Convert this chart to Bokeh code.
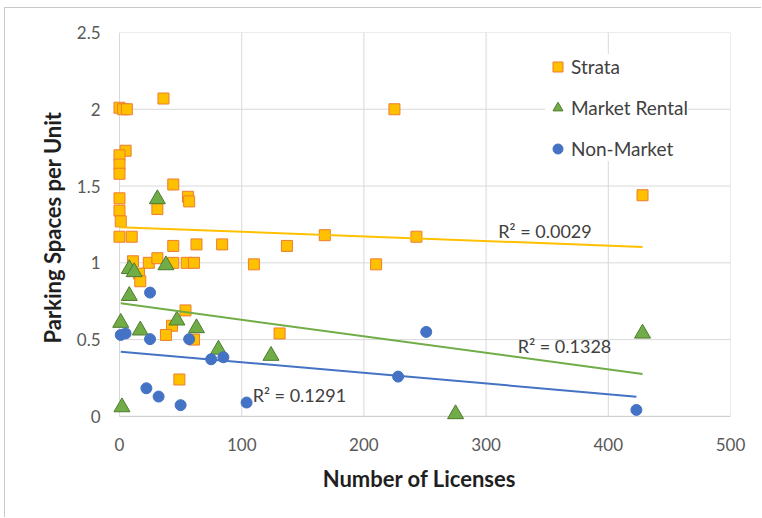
from bokeh.plotting import figure
from bokeh.models import Range1d, FixedTicker, Legend, LegendItem, Label
from bokeh.embed import file_html
from bokeh.resources import INLINE

# ---- data ----
strata_x = [0, 3, 6, 36, 5, 0, 0, 0, 44, 0, 56, 57, 0, 31, 1, 0, 10, 44, 63, 84, 137,
            11, 24, 31, 44, 55, 61, 110, 16, 17, 54, 43, 38, 61, 49, 131, 210, 225, 428, 168, 243]
strata_y = [2.01, 2.0, 2.0, 2.07, 1.73, 1.70, 1.64, 1.58, 1.51, 1.42, 1.43, 1.40, 1.34, 1.35, 1.27,
            1.17, 1.17, 1.11, 1.12, 1.12, 1.11, 1.01, 1.0, 1.03, 1.0, 1.0, 1.0, 0.99, 0.93, 0.88,
            0.69, 0.59, 0.53, 0.50, 0.24, 0.54, 0.99, 2.0, 1.44, 1.18, 1.17]

market_x = [31, 8, 12, 38, 8, 1, 17, 47, 63, 81, 124, 2, 275, 428]
market_y = [1.415, 0.96, 0.94, 0.985, 0.785, 0.61, 0.56, 0.625, 0.575, 0.435, 0.395, 0.06, 0.015, 0.54]

nonmarket_x = [25, 1, 5, 25, 57, 75, 85, 22, 32, 50, 104, 251, 228, 423]
nonmarket_y = [0.806, 0.53, 0.54, 0.503, 0.503, 0.372, 0.385, 0.183, 0.129, 0.073, 0.09, 0.55, 0.259, 0.042]

# linear trend lines (intercept, slope) and R² labels
strata_trend = (1.232, -0.000300)
market_trend = (0.737, -0.001077)
nonmarket_trend = (0.422, -0.000694)
r2_labels = ["R² = 0.0029", "R² = 0.1328", "R² = 0.1291"]

x_ticks = [0, 100, 200, 300, 400, 500]
y_ticks = [0, 0.5, 1, 1.5, 2, 2.5]
y_tick_labels = ["0", "0.5", "1", "1.5", "2", "2.5"]

series_names = ["Strata", "Market Rental", "Non-Market"]

FONT = "Lato"

# the frame is padded a little beyond 0 so that markers sitting on the axes are not clipped
p = figure(width=757, height=510, output_backend="svg", toolbar_location=None,
           x_range=Range1d(-9, 500), y_range=Range1d(-0.04, 2.5),
           min_border_left=103, min_border_right=32, min_border_top=24, min_border_bottom=96)
p.styles = {"position": "relative", "left": "4px", "top": "7px",
            "border-left": "1px solid #c8c8c8", "border-top": "1px solid #c8c8c8"}
p.outline_line_color = None
p.background_fill_color = "white"
p.border_fill_color = "white"
p.xgrid.visible = False
p.ygrid.visible = False

for ax in (p.xaxis[0], p.yaxis[0]):
    ax.major_tick_in = 0
    ax.major_tick_out = 0
    ax.minor_tick_in = 0
    ax.minor_tick_out = 0
    ax.axis_line_color = None
    ax.major_label_text_font = FONT
    ax.major_label_text_font_size = "17px"
    ax.major_label_text_color = "#595959"
    ax.axis_label_text_font = FONT
    ax.axis_label_text_font_style = "bold"
    ax.axis_label_text_font_size = "22px"
    ax.axis_label_text_color = "#1f1f1f"

p.xaxis.ticker = FixedTicker(ticks=x_ticks)
p.yaxis.ticker = FixedTicker(ticks=y_ticks)
p.yaxis.major_label_overrides = {t: l for t, l in zip(y_ticks, y_tick_labels)}
p.xaxis.axis_label = "Number of Licenses"
p.yaxis.axis_label = "Parking Spaces per Unit"
p.yaxis.major_label_standoff = 8
p.yaxis.axis_label_standoff = 8
p.xaxis.major_label_standoff = 15
p.xaxis.axis_label_standoff = 11

# gridlines limited to the 0..500 / 0..2.5 box
x_lo, x_hi = x_ticks[0], x_ticks[-1]
y_lo, y_hi = y_ticks[0], y_ticks[-1]
p.segment(x0=x_ticks, y0=[y_lo] * len(x_ticks), x1=x_ticks, y1=[y_hi] * len(x_ticks),
          line_color="#d9d9d9", line_width=1)
p.segment(x0=[x_lo] * (len(y_ticks) - 1), y0=y_ticks[1:], x1=[x_hi] * (len(y_ticks) - 1), y1=y_ticks[1:],
          line_color="#d9d9d9", line_width=1)
p.segment(x0=[x_lo], y0=[y_lo], x1=[x_hi], y1=[y_lo], line_color="#c6c6c6", line_width=1)

r_s = p.scatter(strata_x, strata_y, marker="square", size=11,
                fill_color="#FFC000", line_color="#ED7D31", line_width=1)
r_m = p.scatter(market_x, market_y, marker="triangle", size=16,
                fill_color="#70AD47", line_color="#4E7A30", line_width=1)
r_n = p.scatter(nonmarket_x, nonmarket_y, marker="circle", size=11,
                fill_color="#4472C4", line_color="#4472C4", line_width=1)

def trend(xs, coef):
    x0, x1 = min(xs), max(xs)
    return [x0, x1], [coef[0] + coef[1] * x0, coef[0] + coef[1] * x1]

for xs, coef, col in ((strata_x, strata_trend, "#FFC000"),
                      (market_x, market_trend, "#70AD47"),
                      (nonmarket_x, nonmarket_trend, "#4472C4")):
    tx, ty = trend(xs, coef)
    p.line(tx, ty, line_color=col, line_width=2)

label_pos = [(310, 1.21), (326, 0.459), (109, 0.14)]
for (lx, ly), txt in zip(label_pos, r2_labels):
    p.add_layout(Label(x=lx, y=ly, text=txt, text_font=FONT, text_font_size="18px",
                       text_color="#404040", text_baseline="middle"))

legend = Legend(items=[LegendItem(label=n, renderers=[r]) for n, r in zip(series_names, (r_s, r_m, r_n))],
                location=(437, 261), margin=0, padding=6, spacing=16,
                glyph_width=25, glyph_height=25, label_height=25, label_standoff=1,
                label_text_font=FONT, label_text_font_size="19px", label_text_color="#404040",
                border_line_color=None, background_fill_color="white", background_fill_alpha=1.0)
p.add_layout(legend)

open("out.html", "w").write(file_html(p, INLINE))
